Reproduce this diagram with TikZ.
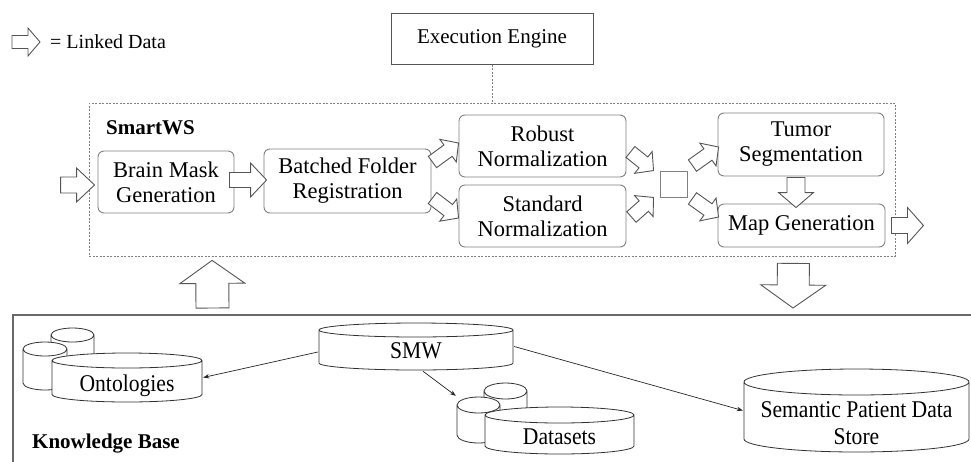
\documentclass[tikz,border=0pt]{standalone}
\usepackage{fontspec}
\setmainfont{Liberation Serif}
\newfontfamily\kbfont{Liberation Serif}[FakeStretch=0.9]
\definecolor{boxgray}{RGB}{128, 128, 128}
\definecolor{arrowgray}{RGB}{85, 85, 85}
\definecolor{framegray}{RGB}{105, 105, 105}
\definecolor{cylgray}{RGB}{50, 50, 50}
\usetikzlibrary{arrows.meta, calc}

\newcommand{\linkarrow}[5]{%
	\draw[linkarrow] let \p1 = (#4), \p2 = (#5), \n1 = {atan2(\y2-\y1, \x2-\x1)}, \n2 = {veclen(\x2-\x1, \y2-\y1)} in
		[shift={(\p1)}, rotate=\n1] (0pt, -#1pt) -- (\n2-#3pt, -#1pt) -- (\n2-#3pt, -#2pt) -- (\n2+0pt, 0pt) -- (\n2-#3pt, #2pt) -- (\n2-#3pt, #1pt) -- (0pt, #1pt) -- cycle;}

\begin{document}
\begin{tikzpicture}[x=1pt, y=-1pt,
	proc/.style={draw=boxgray, line width=0.9pt, rounded corners=6pt, align=center, inner sep=2pt, font=\fontsize{22.5}{25}\selectfont},
	linkarrow/.style={draw=arrowgray, line width=0.9pt, fill=white, line join=miter},
	cylline/.style={draw=cylgray, line width=0.8pt, fill=white},
	dbcyl/.style={inner sep=0pt, path picture={
		\draw[cylline] let \p1 = ([shift={(1pt,-1pt)}]path picture bounding box.north west), \p2 = ([shift={(-1pt,1pt)}]path picture bounding box.south east), \n1 = {(\x2-\x1)/2} in
			(\x1, \y1-#1pt) -- (\x1, \y2+#1pt) arc[start angle=180, end angle=360, x radius=\n1, y radius=#1pt] -- (\x2, \y1-#1pt) arc[start angle=0, end angle=180, x radius=\n1, y radius=#1pt] -- cycle
			(\x1, \y1-#1pt) arc[start angle=180, end angle=360, x radius=\n1, y radius=#1pt];}},
	kbtext/.style={font=\kbfont\fontsize{24}{27}\selectfont, align=center, inner sep=0pt},
	link/.style={draw=black!85, line width=0.7pt, -{Stealth[length=6pt, width=4.5pt]}}]
	\useasboundingbox (0,0) rectangle (971,461);
	\node[draw=boxgray, line width=0.8pt, dash pattern=on 2pt off 1.5pt, minimum width=806pt, minimum height=153pt, inner sep=0pt] (smartws) at (492,179.5) {};
	\node[anchor=west, inner sep=0pt, font=\bfseries\fontsize{21}{25}\selectfont] (smartws-lbl) at (106,128) {SmartWS};
	\node[draw=arrowgray, line width=1pt, minimum width=202pt, minimum height=51pt, font=\fontsize{21}{25}\selectfont] (engine) at (492,38.5) {Execution Engine};
	\draw[boxgray, line width=0.8pt, dash pattern=on 2pt off 1.5pt] (engine.south) -- (engine.south |- smartws.north);
	\node[anchor=west, inner sep=0pt, font=\fontsize{20}{24}\selectfont] (legend) at (50,42) {= Linked Data};
	\node[proc, minimum width=136pt, minimum height=62pt] (brain) at (166,182) {Brain Mask\\Generation};
	\node[proc, minimum width=167pt, minimum height=64pt] (batched) at (347.5,181) {Batched Folder\\Registration};
	\node[proc, minimum width=167pt, minimum height=62pt] (robust) at (542.5,146) {Robust\\Normalization};
	\node[proc, minimum width=167pt, minimum height=62pt] (standard) at (542.5,216) {Standard\\Normalization};
	\node[draw=boxgray, line width=0.9pt, minimum width=27pt, minimum height=26pt, inner sep=0pt] (hub) at (673.5,184) {};
	\node[proc, minimum width=166pt, minimum height=63pt] (tumor) at (801,144.5) {Tumor\\Segmentation};
	\node[proc, minimum width=167pt, minimum height=43pt] (mapgen) at (801.5,225.5) {Map Generation};
	\linkarrow{6.5}{14}{12}{[shift={(-38,0)}]legend.west}{[shift={(-10,0)}]legend.west}
	\linkarrow{8}{17}{18}{[shift={(-37,3)}]brain.west}{[shift={(-3,3)}]brain.west}
	\linkarrow{7.5}{17}{16}{[shift={(-5,-2)}]brain.east}{[shift={(3,-1)}]batched.west}
	\linkarrow{7}{14}{13}{[shift={(1,-19)}]batched.east}{[shift={(0,-3)}]robust.west}
	\linkarrow{7}{14}{13}{[shift={(1,17)}]batched.east}{[shift={(0,2)}]standard.west}
	\linkarrow{7}{14}{13}{[shift={(4,6)}]robust.east}{[shift={(-6,0)}]hub.north west}
	\linkarrow{7}{14}{13}{[shift={(5,1)}]standard.east}{[shift={(-6,0)}]hub.south west}
	\linkarrow{7}{14}{13}{[shift={(5,-5)}]hub.north east}{[shift={(1,2.5)}]tumor.west}
	\linkarrow{7}{14}{13}{[shift={(5,1)}]hub.south east}{[shift={(1,-8.5)}]mapgen.west}
	\linkarrow{9}{17.5}{15}{[shift={(-5,1)}]tumor.south}{[shift={(-5.5,4)}]mapgen.north}
	\linkarrow{8}{18}{16}{[shift={(6,0)}]mapgen.east}{[shift={(38,0)}]mapgen.east}
	\coordinate (kb) at (13,315);
	\draw[framegray, line width=1.3pt] (13,462) -- (kb) -- (972,315);
	\node[anchor=west, inner sep=0pt, font=\bfseries\fontsize{21}{25}\selectfont] (kb-lbl) at (32,444) {Knowledge Base};
	\linkarrow{16.5}{32.5}{23}{[shift={(199.5,-7)}]kb}{[shift={(123.5,4)}]smartws.south west}
	\linkarrow{16}{32.5}{23}{[shift={(-102,7)}]smartws.south east}{[shift={(780,-7)}]kb}
	\node[dbcyl=7, minimum width=45pt, minimum height=50pt] (ont-a) at (72.5,352) {};
	\node[dbcyl=7, minimum width=46pt, minimum height=50pt] (ont-b) at (45,366) {};
	\node[dbcyl=7.5, minimum width=152pt, minimum height=51pt] (ont) at (127,377.5) {};
	\node[kbtext] (ont-lbl) at ([shift={(0,8)}]ont) {Ontologies};
	\node[dbcyl=7, minimum width=196pt, minimum height=49pt] (smw) at (416,346.5) {};
	\node[kbtext] (smw-lbl) at ([shift={(0,4)}]smw) {SMW};
	\node[dbcyl=8, minimum width=45pt, minimum height=50pt] (ds-a) at (505.5,407) {};
	\node[dbcyl=8, minimum width=45pt, minimum height=48pt] (ds-b) at (478.5,420) {};
	\node[dbcyl=8, minimum width=151pt, minimum height=49pt] (ds) at (559.5,430.5) {};
	\node[kbtext] (ds-lbl) at ([shift={(0,6.5)}]ds) {Datasets};
	\node[dbcyl=13, minimum width=227pt, minimum height=85pt] (sem) at (856.5,410.5) {};
	\node[kbtext] (sem-lbl) at ([shift={(0,13)}]sem) {Semantic Patient Data\\Store};
	\draw[link] ([shift={(0,5.5)}]smw.west) -- (ont.east);
	\draw[link] ([shift={(7,0)}]smw.south) -- (ds-b.north west);
	\draw[link] (smw.east) -- (sem.west);
\end{tikzpicture}
\end{document}
